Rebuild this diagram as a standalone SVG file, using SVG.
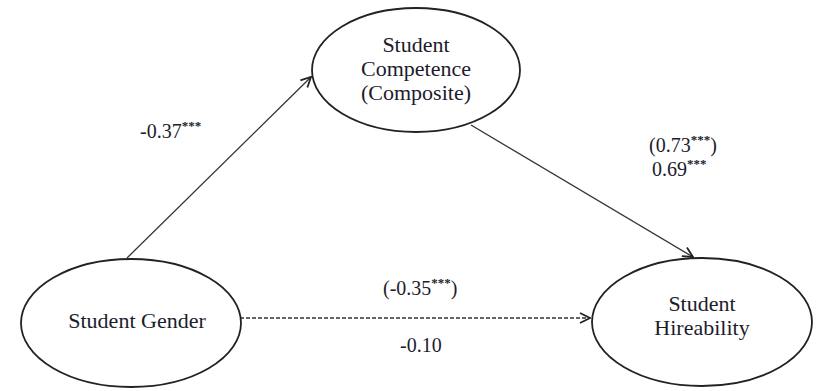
<svg xmlns="http://www.w3.org/2000/svg" width="818" height="391" viewBox="0 0 818 391">
<style>
.node{fill:#fff;stroke:#222;stroke-width:1.8}
.t{font-family:"Liberation Serif","Times New Roman",serif;font-size:22px;fill:#1c1c2c;text-anchor:middle}
.l{font-family:"Liberation Serif","Times New Roman",serif;font-size:20px;fill:#1c1c2c}
.sup{font-size:13px;font-weight:bold}
.edge{stroke:#333;stroke-width:1.3;fill:none}
</style>
<defs>
<marker id="arr" viewBox="0 0 12 12" refX="11" refY="6" markerWidth="12" markerHeight="12" markerUnits="userSpaceOnUse" orient="auto">
<path d="M1,1 L11,6 L1,11" fill="none" stroke="#222" stroke-width="1.8"/>
</marker>
</defs>
<g id="connectors">
<line class="edge" x1="127" y1="258" x2="311" y2="77" marker-end="url(#arr)"/>
<line class="edge" x1="471" y1="125" x2="693" y2="257" marker-end="url(#arr)"/>
<line class="edge" x1="240" y1="318" x2="590" y2="318" stroke-dasharray="4,2" marker-end="url(#arr)"/>
</g>
<g id="competence">
<ellipse class="node" cx="416" cy="70" rx="104" ry="62"/>
<text class="t" x="416" y="52">Student</text>
<text class="t" x="416" y="76">Competence</text>
<text class="t" x="416" y="100">(Composite)</text>
</g>
<g id="gender">
<ellipse class="node" cx="131" cy="323" rx="110" ry="64"/>
<text class="t" x="137" y="328">Student Gender</text>
</g>
<g id="hireability">
<ellipse class="node" cx="702" cy="322" rx="110" ry="64"/>
<text class="t" x="702" y="311">Student</text>
<text class="t" x="702" y="335">Hireability</text>
</g>
<g id="labels">
<text class="l" x="140" y="138">-0.37<tspan class="sup" dy="-8">***</tspan></text>
<text class="l" x="649" y="152">(0.73<tspan class="sup" dy="-8">***</tspan><tspan dy="8">)</tspan></text>
<text class="l" x="652" y="176">0.69<tspan class="sup" dy="-8">***</tspan></text>
<text class="l" x="383" y="295">(-0.35<tspan class="sup" dy="-8">***</tspan><tspan dy="8">)</tspan></text>
<text class="l" x="400" y="352">-0.10</text>
</g>
</svg>
